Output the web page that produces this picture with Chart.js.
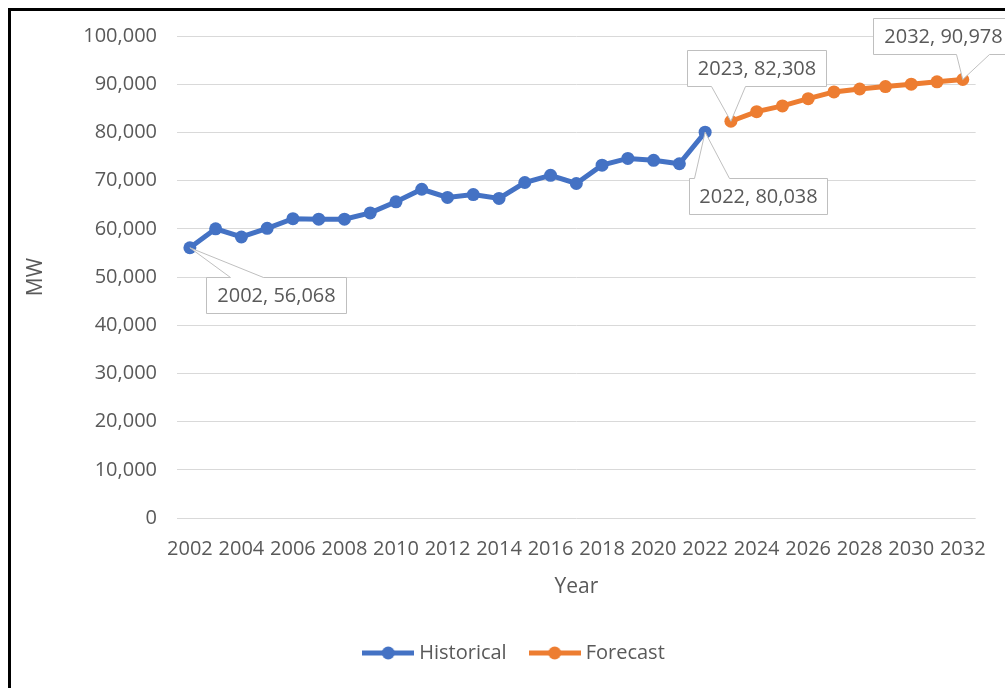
<!DOCTYPE html>
<html>
<head>
<meta charset="utf-8">
<title>Peak demand</title>
<script src="https://cdn.jsdelivr.net/npm/chart.js@4.4.1/dist/chart.umd.min.js"></script>
<style>
    html, body { margin: 0; padding: 0; background: #fff; overflow: hidden; }
    #wrap { position: relative; width: 1005px; height: 688px; }
    #wrap canvas { position: absolute; left: 0; top: 0; }
    #frame {
        position: absolute; left: 8px; top: 8px;
        width: 1100px; height: 800px;
        border: 3px solid #000; box-sizing: border-box;
        pointer-events: none;
    }
</style>
</head>
<body>
<div id="wrap">
    <canvas id="peak-chart" width="1005" height="688"></canvas>
    <div id="frame"></div>
</div>
<script>
const years = ['2002', '2003', '2004', '2005', '2006', '2007', '2008', '2009', '2010', '2011',
    '2012', '2013', '2014', '2015', '2016', '2017', '2018', '2019', '2020', '2021',
    '2022', '2023', '2024', '2025', '2026', '2027', '2028', '2029', '2030', '2031', '2032'];

const historical = [56068, 60000, 58300, 60100, 62100, 62000, 62000, 63300, 65600, 68200,
    66500, 67100, 66300, 69600, 71100, 69400, 73200, 74600, 74200, 73500, 80038];

const forecast = [82308, 84300, 85500, 87000, 88400, 89000, 89500, 90000, 90500, 90978];

const yTicks = [0, 10000, 20000, 30000, 40000, 50000, 60000, 70000, 80000, 90000, 100000];

// callout boxes: offset of the box from its point, size, which edge the pointer leaves from
const callouts = [
    { ds: 0, idx: 0,  dx: 16,  dy: 29,  w: 140, h: 36, side: 'top',    a: 24, b: 57 },
    { ds: 0, idx: 20, dx: -16, dy: 46,  w: 138, h: 36, side: 'top',    a: 5,  b: 40 },
    { ds: 1, idx: 21, dx: -44, dy: -71, w: 139, h: 36, side: 'bottom', a: 24, b: 58 },
    { ds: 1, idx: 30, dx: -90, dy: -61, w: 140, h: 36, side: 'bottom', a: 83, b: 116 }
];

const BLUE = '#4472C4';
const ORANGE = '#ED7D31';
const TEXT = '#595959';

Chart.defaults.font.family = "'Open Sans', sans-serif";
Chart.defaults.font.size = 20;
Chart.defaults.color = TEXT;

// line with a dot in the middle, used as the legend marker
function legendMarker(color) {
    let c = document.createElement('canvas');
    c.width = 52;
    c.height = 14;
    let g = c.getContext('2d');
    g.strokeStyle = color;
    g.lineWidth = 5;
    g.beginPath();
    g.moveTo(0, 7);
    g.lineTo(52, 7);
    g.stroke();
    g.fillStyle = color;
    g.beginPath();
    g.arc(26, 7, 6.5, 0, Math.PI * 2);
    g.fill();
    return c;
}

const markers = [legendMarker(BLUE), legendMarker(ORANGE)];

const calloutPlugin = {
    id: 'callouts',
    afterDatasetsDraw(chart) {
        let ctx = chart.ctx;
        ctx.save();
        callouts.forEach((c) => {
            let pt = chart.getDatasetMeta(c.ds).data[c.idx];
            let value = chart.data.datasets[c.ds].data[c.idx];
            let text = years[c.idx] + ', ' + value.toLocaleString('en-US');
            let x0 = Math.round(pt.x + c.dx) + 0.5;
            let y0 = Math.round(pt.y + c.dy) + 0.5;

            ctx.beginPath();
            if (c.side === 'top') {
                ctx.moveTo(x0, y0);
                ctx.lineTo(x0 + c.a, y0);
                ctx.lineTo(pt.x, pt.y);
                ctx.lineTo(x0 + c.b, y0);
                ctx.lineTo(x0 + c.w, y0);
                ctx.lineTo(x0 + c.w, y0 + c.h);
                ctx.lineTo(x0, y0 + c.h);
            } else {
                ctx.moveTo(x0, y0);
                ctx.lineTo(x0 + c.w, y0);
                ctx.lineTo(x0 + c.w, y0 + c.h);
                ctx.lineTo(x0 + c.b, y0 + c.h);
                ctx.lineTo(pt.x, pt.y);
                ctx.lineTo(x0 + c.a, y0 + c.h);
                ctx.lineTo(x0, y0 + c.h);
            }
            ctx.closePath();
            ctx.fillStyle = '#fff';
            ctx.fill();
            ctx.strokeStyle = '#bfbfbf';
            ctx.lineWidth = 1;
            ctx.stroke();

            ctx.fillStyle = TEXT;
            ctx.font = "20px 'Open Sans', sans-serif";
            ctx.textAlign = 'center';
            ctx.textBaseline = 'middle';
            ctx.fillText(text, x0 + c.w / 2, y0 + c.h / 2 + 1);
        });
        ctx.restore();
    }
};

// legend sits a little right of the canvas centre
const legendShift = {
    id: 'legendShift',
    afterLayout(chart) {
        chart.legend.left += 25;
        chart.legend.right += 25;
    }
};

let padded = (arr, before, after) => Array(before).fill(null).concat(arr, Array(after).fill(null));

let peakChart = new Chart(document.getElementById('peak-chart'), {
    type: 'line',
    data: {
        labels: years,
        datasets: [{
            label: 'Historical',
            data: padded(historical, 0, forecast.length),
            borderColor: BLUE,
            backgroundColor: BLUE,
            borderWidth: 5,
            pointRadius: 6.5,
            pointBorderWidth: 0,
            pointBackgroundColor: BLUE
        }, {
            label: 'Forecast',
            data: padded(forecast, historical.length, 0),
            borderColor: ORANGE,
            backgroundColor: ORANGE,
            borderWidth: 5,
            pointRadius: 6.5,
            pointBorderWidth: 0,
            pointBackgroundColor: ORANGE
        }]
    },
    options: {
        responsive: false,
        animation: false,
        layout: {
            padding: { top: 36, right: 23, bottom: 15, left: 0 }
        },
        plugins: {
            tooltip: { enabled: false },
            legend: {
                position: 'bottom',
                labels: {
                    usePointStyle: true,
                    pointStyleWidth: 42,
                    padding: 27,
                    color: TEXT,
                    font: { size: 20 },
                    generateLabels(chart) {
                        let items = Chart.defaults.plugins.legend.labels.generateLabels(chart);
                        items.forEach((item) => { item.pointStyle = markers[item.datasetIndex]; });
                        return items;
                    }
                }
            }
        },
        scales: {
            x: {
                offset: true,
                grid: { display: false, drawTicks: false },
                border: { display: false },
                ticks: {
                    autoSkip: false,
                    maxRotation: 0,
                    padding: 19,
                    callback: function (value, index) {
                        return index % 2 === 0 ? this.getLabelForValue(value) : '';
                    }
                },
                title: { display: true, text: 'Year', font: { size: 21 }, padding: { top: 6, bottom: 16 } },
                afterFit: (scale) => { scale.height = 98; }
            },
            y: {
                min: 0,
                max: 100000,
                afterBuildTicks: (scale) => { scale.ticks = yTicks.map((v) => ({ value: v })); },
                grid: { color: '#d9d9d9', lineWidth: 1, drawTicks: false },
                border: { display: false },
                ticks: {
                    padding: 20,
                    callback: (value) => value.toLocaleString('en-US')
                },
                title: { display: true, text: 'MW', font: { size: 21 }, padding: { top: 23, bottom: 0 } },
                afterFit: (scale) => { scale.width = 177; }
            }
        }
    },
    plugins: [calloutPlugin, legendShift]
});
</script>
</body>
</html>
